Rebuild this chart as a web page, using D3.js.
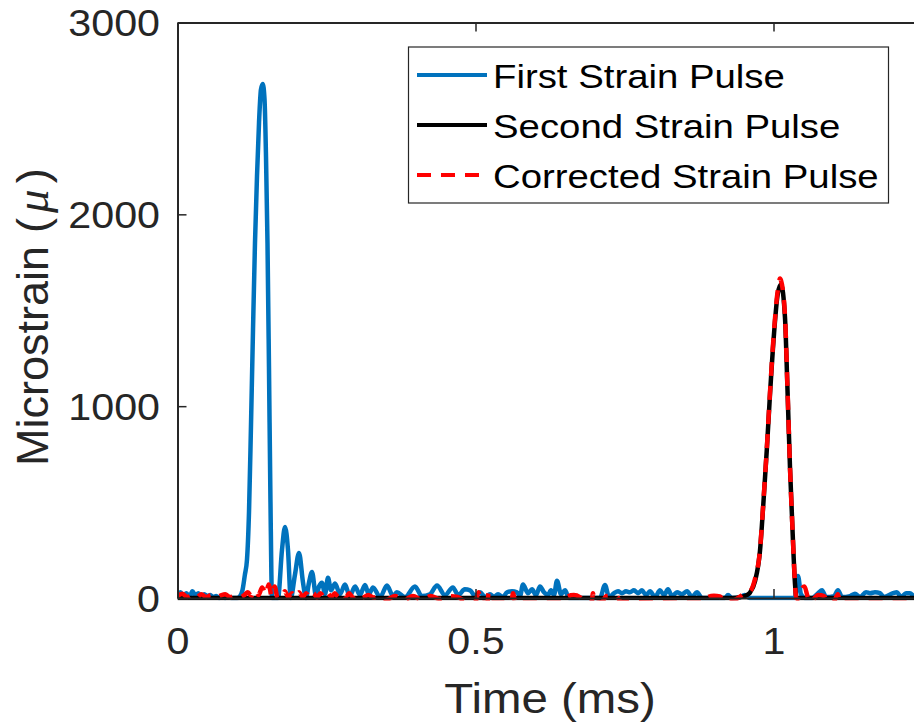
<!DOCTYPE html>
<html>
<head>
<meta charset="utf-8">
<script src="https://cdn.jsdelivr.net/npm/d3@7"></script>
<style>
    body { margin: 0; background: #fff; }
    svg { display: block; font-family: "Liberation Sans", Arial, sans-serif; }
</style>
</head>
<body>
<div id="chart"></div>
<script>
// values (time in ms, strain in microstrain)
const firstTime = [0, 0.005, 0.01, 0.015, 0.02, 0.025, 0.03, 0.035, 0.04, 0.045, 0.05, 0.055, 0.06, 0.065, 0.07, 0.075, 0.08, 0.085, 0.09, 0.095, 0.1, 0.105,
    0.109, 0.113, 0.1166, 0.12, 0.1233, 0.1267, 0.13, 0.1334, 0.1368, 0.14, 0.143, 0.146, 0.1485, 0.151, 0.1535, 0.156, 0.1586,
    0.1686, 0.1753, 0.1804, 0.1854, 0.19, 0.197, 0.2039, 0.2106, 0.2156, 0.2206, 0.2257, 0.2324, 0.2374, 0.2424, 0.2475, 0.2525, 0.2576, 0.2643,
    0.2727, 0.281, 0.289, 0.298, 0.306, 0.3146, 0.321, 0.328, 0.34, 0.3515, 0.3616, 0.368, 0.382, 0.3985, 0.41, 0.4237, 0.4354, 0.4488,
    0.462, 0.471, 0.482, 0.491, 0.4992, 0.5075, 0.516, 0.5243, 0.531, 0.5378, 0.5461, 0.5529, 0.5612, 0.5696, 0.5747, 0.5797, 0.5881, 0.5948,
    0.6015, 0.6082, 0.6149, 0.6216, 0.6267, 0.6317, 0.6367, 0.6435, 0.6502, 0.6569, 0.7089, 0.7173, 0.724, 0.7324, 0.7391, 0.7458, 0.7525,
    0.7592, 0.7659, 0.7727, 0.7794, 0.7861, 0.7928, 0.8012, 0.8096, 0.8163, 0.823, 0.8297, 0.8381, 0.8465, 0.8549, 0.8633, 0.8716, 0.88,
    0.9186, 0.9237, 0.93, 0.94, 0.952, 0.96, 1.036, 1.0411, 1.0461, 1.0528, 1.0646, 1.0747, 1.0814, 1.0881, 1.1015, 1.1082, 1.1149, 1.1284,
    1.1367, 1.1451, 1.1552, 1.1619, 1.1703, 1.1787, 1.1854, 1.2005, 1.2072, 1.2139, 1.2223, 1.229, 1.2357, 1.25];
const firstStrain = [20, 30, 10, 25, 5, 35, 15, 25, 5, 20, 10, 15, 5, 10, 0, 10, 0, 5, 0, 0, 0, 10,
    40, 120, 200, 450, 900, 1400, 1850, 2200, 2480, 2650, 2680, 2600, 2300, 1850, 1200, 500, 0,
    0, 250, 370, 250, 0, 120, 235, 80, 0, 80, 135, 10, 60, 80, 20, 105, 40, 75,
    20, 70, 10, 60, 15, 68, 20, 55, 5, 65, 10, 30, 5, 60, 10, 20, 65, 15,
    55, 15, 45, 40, 10, 30, 5, 20, 5, 20, 5, 30, 35, 30, 10, 70, 25, 45,
    15, 60, 30, 15, 40, 15, 90, 20, 40, 0, 0, 68, 5, 25, 35, 25, 35,
    30, 40, 25, 40, 15, 35, 5, 40, 15, 45, 10, 30, 20, 35, 5, 30, 0,
    0, 15, 0, 0, 15, 0, 0, 115, 20, 0, 0, 25, 40, 5, 10, 40, 5, 10,
    22, 5, 30, 25, 30, 25, 5, 25, 30, 5, 25, 25, 10, 15];

const secondTime = [0, 0.93, 0.945, 0.955, 0.9606, 0.969, 0.9773, 0.9829, 0.9886, 0.9941, 1.0008, 1.007, 1.0126, 1.0193, 1.0232, 1.0277, 1.0322, 1.0361, 1.0389, 1.25];
const secondStrain = [0, 0, 5, 15, 28, 88, 245, 488, 765, 1060, 1375, 1583, 1635, 1460, 1113, 678, 333, 73, 0, 0];

const correctedTime = [0, 0.008, 0.016, 0.024, 0.032, 0.04, 0.048, 0.056, 0.064, 0.072, 0.08, 0.088, 0.096, 0.104, 0.112, 0.118, 0.124, 0.13,
    0.136, 0.142, 0.148, 0.153, 0.158, 0.163, 0.168, 0.176, 0.18, 0.186, 0.192, 0.198, 0.204, 0.21, 0.216, 0.222, 0.228, 0.234, 0.24,
    0.246, 0.252, 0.258, 0.264, 0.27, 0.276, 0.282, 0.288, 0.294, 0.3, 0.31, 0.32, 0.33, 0.34, 0.35, 0.365, 0.38, 0.395, 0.41, 0.425,
    0.44, 0.455, 0.47, 0.485, 0.5, 0.505, 0.51, 0.52, 0.522, 0.526, 0.56, 0.563, 0.567, 0.645, 0.655, 0.665, 0.675, 0.685, 0.695, 0.697,
    0.7, 0.712, 0.72, 0.735, 0.745, 0.88, 0.89, 0.9, 0.91, 0.918, 0.935, 0.945, 0.952, 0.9606, 0.969, 0.9773, 0.9829, 0.9886, 0.9941,
    1.0008, 1.007, 1.011, 1.0126, 1.0193, 1.0232, 1.0277, 1.0322, 1.0361, 1.038, 1.041, 1.046, 1.052, 1.057, 1.062, 1.075, 1.085, 1.09,
    1.1, 1.108, 1.112, 1.25];
const correctedStrain = [10, 22, 5, 15, 2, 20, 5, 15, 2, 12, 20, 5, 10, 2, 15, 30, 10, 40,
    15, 55, 20, 70, 10, 60, 0, 10, 35, 5, 25, 5, 30, 5, 25, 2, 25, 2, 25,
    2, 25, 5, 25, 5, 25, 5, 25, 5, 20, 2, 15, 2, 10, -10, 10, -10, 10, -10, 10,
    -5, 10, 5, -20, -20, 30, -25, -25, 25, -25, -25, 25, -25, -25, 8, 15, 5, -25, -25, 25,
    -25, -20, 10, 12, -20, -25, 5, 12, 8, -20, -10, 10, 25, 35, 100, 250, 495, 770, 1070,
    1390, 1600, 1665, 1655, 1470, 1120, 680, 335, 75, 0, -5, 40, 60, 10, -20, 15, 10, -20,
    -25, 20, -25, -25];

const xTicks = [0, 0.5, 1];
const yTicks = [0, 1000, 2000, 3000];
const legendLabels = ["First Strain Pulse", "Second Strain Pulse", "Corrected Strain Pulse"];

const width = 914, height = 728;
const margin = {top: 22.5, bottom: 130, left: 177.5};
const axisColor = "#262626";
const stretch = 1.13;

let svg = d3.select("#chart").append("svg")
    .attr("width", width)
    .attr("height", height);

const x = d3.scaleLinear().domain([0, 1.25]).range([margin.left, margin.left + 1.25 * 596]);
const y = d3.scaleLinear().domain([0, 3000]).range([height - margin.bottom, margin.top]);

const x0 = x.range()[0], x1 = x.range()[1];
const y0 = y.range()[0], y1 = y.range()[1];

svg.append("clipPath").attr("id", "plot-clip")
    .append("rect")
    .attr("x", x0).attr("y", y1)
    .attr("width", x1 - x0).attr("height", y0 - y1 + 2.5);

const series = [
    {time: firstTime, strain: firstStrain, color: "#0072BD", dash: null},
    {time: secondTime, strain: secondStrain, color: "#000000", dash: null},
    {time: correctedTime, strain: correctedStrain, color: "#FF0000", dash: "14,10"}
];

const line = d3.line()
    .x(d => x(d[0]))
    .y(d => y(d[1]))
    .curve(d3.curveMonotoneX);

let plot = svg.append("g").attr("clip-path", "url(#plot-clip)");

series.forEach(function (s) {
    plot.append("path")
        .datum(s.time.map((t, i) => [t, s.strain[i]]))
        .attr("d", line)
        .attr("fill", "none")
        .attr("stroke", s.color)
        .attr("stroke-width", 4.5)
        .attr("stroke-linejoin", "round")
        .attr("stroke-dasharray", s.dash);
});

// axes (MATLAB style: ticks inward, box on)
function styleAxis(g) {
    g.attr("font-size", 36.5).attr("font-family", "'Liberation Sans', Arial, sans-serif");
    g.select(".domain").attr("stroke", axisColor).attr("stroke-width", 2);
    g.selectAll(".tick line").attr("stroke", axisColor).attr("stroke-width", 1.5);
    g.selectAll(".tick text").attr("fill", axisColor);
}

svg.append("g")
    .attr("transform", "translate(0," + y0 + ")")
    .call(d3.axisBottom(x).tickValues(xTicks).tickFormat(d3.format("")).tickSizeInner(-9).tickSizeOuter(0))
    .call(styleAxis)
    .selectAll(".tick text")
    .attr("y", null).attr("dy", null)
    .attr("transform", "translate(0,56) scale(" + stretch + ",1)");

svg.append("g")
    .attr("transform", "translate(0," + y1 + ")")
    .call(d3.axisTop(x).tickValues(xTicks).tickFormat("").tickSizeInner(-9).tickSizeOuter(0))
    .call(styleAxis);

svg.append("g")
    .attr("transform", "translate(" + x0 + ",0)")
    .call(d3.axisLeft(y).tickValues(yTicks).tickFormat(d3.format("d")).tickSizeInner(-9).tickSizeOuter(0))
    .call(styleAxis)
    .selectAll(".tick text")
    .attr("x", null).attr("dy", null)
    .attr("transform", "translate(-17.5,13) scale(" + stretch + ",1)");

// axis labels
svg.append("text")
    .attr("transform", "translate(550,713) scale(" + stretch + ",1)")
    .attr("text-anchor", "middle")
    .attr("font-size", 42)
    .attr("fill", axisColor)
    .text("Time (ms)");

let ylab = svg.append("text")
    .attr("transform", "translate(48,466) rotate(-90)")
    .attr("text-anchor", "start")
    .attr("font-size", 45)
    .attr("fill", axisColor);
ylab.append("tspan").text("Microstrain");
ylab.append("tspan").attr("dx", 13).text("(");
ylab.append("tspan").attr("dx", 5).attr("font-family", "'Liberation Serif', serif").attr("font-style", "italic").attr("font-size", 47).text("μ");
ylab.append("tspan").attr("dx", 6).text(")");

// legend
let legend = svg.append("g");
legend.append("rect")
    .attr("x", 408.5).attr("y", 47)
    .attr("width", 480).attr("height", 156)
    .attr("fill", "#fff")
    .attr("stroke", axisColor)
    .attr("stroke-width", 1.2);

legendLabels.forEach(function (label, i) {
    const ly = 75 + i * 50;
    legend.append("line")
        .attr("x1", 417).attr("x2", 487)
        .attr("y1", ly).attr("y2", ly)
        .attr("stroke", series[i].color)
        .attr("stroke-width", 4)
        .attr("stroke-dasharray", series[i].dash);
    legend.append("text")
        .attr("transform", "translate(493," + (ly + 12.5) + ") scale(1.18,1)")
        .attr("font-size", 32.5)
        .attr("fill", "#000")
        .text(label);
});
</script>
</body>
</html>
